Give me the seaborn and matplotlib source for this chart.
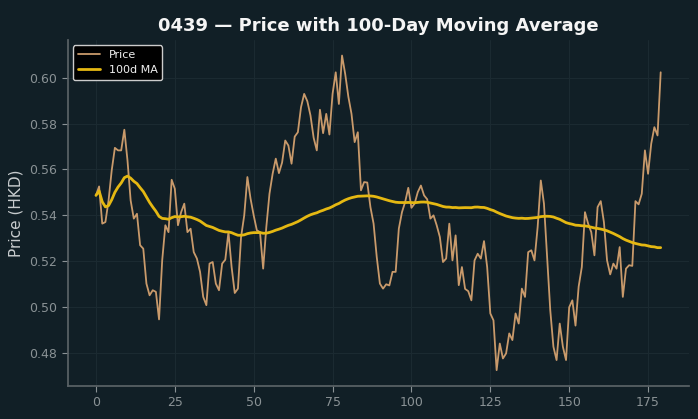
import numpy as np
import pandas as pd
import seaborn as sns
import matplotlib
matplotlib.use("Agg")
import matplotlib.pyplot as plt

# closing prices, one per trading day
price = [
    0.5487, 0.5526, 0.5364, 0.5371, 0.5465, 0.5596, 0.5694, 0.5683, 0.5683, 0.5773,
    0.5639, 0.5465, 0.5386, 0.5407, 0.5270, 0.5255, 0.5103, 0.5052, 0.5074, 0.5067,
    0.4947, 0.5204, 0.5357, 0.5327, 0.5555, 0.5516, 0.5357, 0.5414, 0.5451, 0.5327,
    0.5342, 0.5240, 0.5212, 0.5154, 0.5045, 0.5009, 0.5190, 0.5197, 0.5103, 0.5074,
    0.5190, 0.5207, 0.5327, 0.5175, 0.5062, 0.5081, 0.5306, 0.5400, 0.5567, 0.5473,
    0.5400, 0.5335, 0.5327, 0.5168, 0.5349, 0.5494, 0.5581, 0.5647, 0.5584, 0.5630,
    0.5726, 0.5704, 0.5625, 0.5743, 0.5762, 0.5871, 0.5929, 0.5897, 0.5835, 0.5738,
    0.5683, 0.5860, 0.5758, 0.5842, 0.5752, 0.5929, 0.6023, 0.5885, 0.6096, 0.6016,
    0.5917, 0.5842, 0.5719, 0.5762, 0.5509, 0.5545, 0.5543, 0.5436, 0.5364, 0.5219,
    0.5103, 0.5081, 0.5100, 0.5095, 0.5154, 0.5154, 0.5342, 0.5414, 0.5458, 0.5520,
    0.5433, 0.5451, 0.5501, 0.5530, 0.5487, 0.5470, 0.5386, 0.5400, 0.5357, 0.5306,
    0.5197, 0.5212, 0.5364, 0.5204, 0.5313, 0.5096, 0.5175, 0.5080, 0.5070, 0.5030,
    0.5204, 0.5233, 0.5212, 0.5288, 0.5175, 0.4973, 0.4943, 0.4726, 0.4842, 0.4777,
    0.4799, 0.4886, 0.4857, 0.4973, 0.4929, 0.5081, 0.5045, 0.5240, 0.5248, 0.5204,
    0.5349, 0.5552, 0.5451, 0.5219, 0.4987, 0.4828, 0.4770, 0.4929, 0.4828, 0.4770,
    0.5000, 0.5030, 0.4920, 0.5090, 0.5175, 0.5414, 0.5364, 0.5327, 0.5226, 0.5436,
    0.5462, 0.5371, 0.5204, 0.5143, 0.5190, 0.5168, 0.5262, 0.5045, 0.5168, 0.5183,
    0.5180, 0.5462, 0.5448, 0.5494, 0.5683, 0.5581, 0.5712, 0.5784, 0.5748, 0.6023,
]
ticker = "0439"
ma_window = 100

bg = "#111f26"
sns.set_theme(style="darkgrid", rc={
    "figure.facecolor": bg,
    "axes.facecolor": bg,
    "axes.edgecolor": "#5a6266",
    "grid.color": "#1b2a31",
    "grid.linewidth": 0.8,
    "text.color": "#f0f0f0",
    "axes.labelcolor": "#c8ccce",
    "xtick.color": "#8a9295",
    "ytick.color": "#8a9295",
    "xtick.bottom": True,
    "ytick.left": True,
})

df = pd.DataFrame({"day": np.arange(len(price)), "Price": price})
df["MA"] = df["Price"].rolling(ma_window, min_periods=1).mean()

fig, ax = plt.subplots(figsize=(6.98, 4.19), dpi=100)
fig.subplots_adjust(left=0.097, right=0.987, top=0.905, bottom=0.079)

sns.lineplot(data=df, x="day", y="Price", ax=ax, color="#c99a6b", linewidth=1.3, label="Price")
sns.lineplot(data=df, x="day", y="MA", ax=ax, color="#e5b812", linewidth=2.0, label="100d MA")

ax.set_title(f"{ticker} — Price with 100-Day Moving Average", fontsize=13, fontweight="bold", color="#f5f5f5")
ax.set_xlabel("")
ax.set_ylabel("Price (HKD)", fontsize=11)
ax.tick_params(labelsize=9, length=4, width=0.8)
ax.set_xticks([0, 25, 50, 75, 100, 125, 150, 175])
ax.set_yticks([0.48, 0.50, 0.52, 0.54, 0.56, 0.58, 0.60])
ax.yaxis.set_major_formatter(matplotlib.ticker.FormatStrFormatter("%.2f"))
for side in ["top", "right"]:
    ax.spines[side].set_visible(False)
for side in ["left", "bottom"]:
    ax.spines[side].set_color("#5a6266")

leg = ax.legend(loc="upper left", fontsize=8, facecolor="black", edgecolor="#cccccc", framealpha=1)
for t in leg.get_texts():
    t.set_color("#f0f0f0")

plt.savefig("out.png", dpi=100, facecolor=bg)
